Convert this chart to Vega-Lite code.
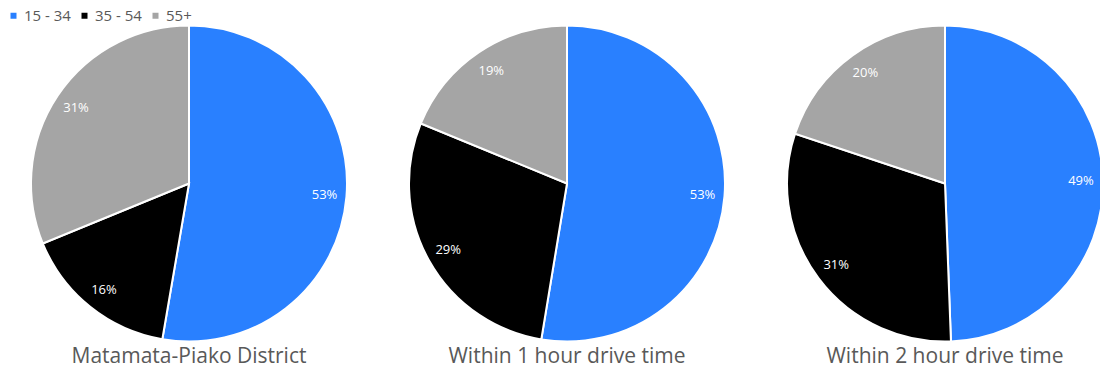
{
  "$schema": "https://vega.github.io/schema/vega-lite/v6.json",
  "padding": {"left": 0, "top": 0, "right": 0, "bottom": 6},
  "bounds": "flush",
  "background": "white",
  "data": {"values": [
    {"area": "Matamata-Piako District", "age": "15 - 34", "idx": 1, "value": 52.7, "label": "53%"},
    {"area": "Matamata-Piako District", "age": "35 - 54", "idx": 2, "value": 16.1, "label": "16%"},
    {"area": "Matamata-Piako District", "age": "55+", "idx": 3, "value": 31.2, "label": "31%"},
    {"area": "Within 1 hour drive time", "age": "15 - 34", "idx": 1, "value": 52.6, "label": "53%"},
    {"area": "Within 1 hour drive time", "age": "35 - 54", "idx": 2, "value": 28.6, "label": "29%"},
    {"area": "Within 1 hour drive time", "age": "55+", "idx": 3, "value": 18.8, "label": "19%"},
    {"area": "Within 2 hour drive time", "age": "15 - 34", "idx": 1, "value": 49.4, "label": "49%"},
    {"area": "Within 2 hour drive time", "age": "35 - 54", "idx": 2, "value": 30.7, "label": "31%"},
    {"area": "Within 2 hour drive time", "age": "55+", "idx": 3, "value": 19.9, "label": "20%"}
  ]},
  "facet": {
    "column": {
      "field": "area", "type": "nominal",
      "sort": ["Matamata-Piako District", "Within 1 hour drive time", "Within 2 hour drive time"],
      "header": {
        "title": null, "labelOrient": "bottom", "labelFont": "Open Sans", "labelFontSize": 21,
        "labelColor": "#595959", "labelPadding": -4, "labelBaseline": "alphabetic"
      }
    }
  },
  "spacing": 0,
  "spec": {
    "width": 378,
    "height": 367,
    "encoding": {
      "theta": {"field": "value", "type": "quantitative", "stack": true},
      "order": {"field": "idx", "type": "quantitative"}
    },
    "layer": [
      {
        "mark": {"type": "arc", "outerRadius": 158, "stroke": "white", "strokeWidth": 2},
        "encoding": {
          "color": {
            "field": "age", "type": "nominal",
            "scale": {"domain": ["15 - 34", "35 - 54", "55+"], "range": ["#2980FF", "#000000", "#A5A5A5"]},
            "legend": {
              "title": null, "orient": "none", "direction": "horizontal",
              "legendX": 6, "legendY": 8, "padding": 0,
              "symbolType": "square", "symbolSize": 36, "symbolStrokeWidth": 0,
              "labelFont": "Open Sans", "labelFontSize": 15, "labelColor": "#595959",
              "labelOffset": 3, "columnPadding": 6
            }
          }
        }
      },
      {
        "mark": {"type": "text", "radius": 136, "color": "white", "font": "Open Sans", "fontSize": 13},
        "encoding": {
          "text": {"field": "label", "type": "nominal"},
          "detail": {"field": "age", "type": "nominal"}
        }
      }
    ]
  },
  "config": {"view": {"stroke": null}}
}
